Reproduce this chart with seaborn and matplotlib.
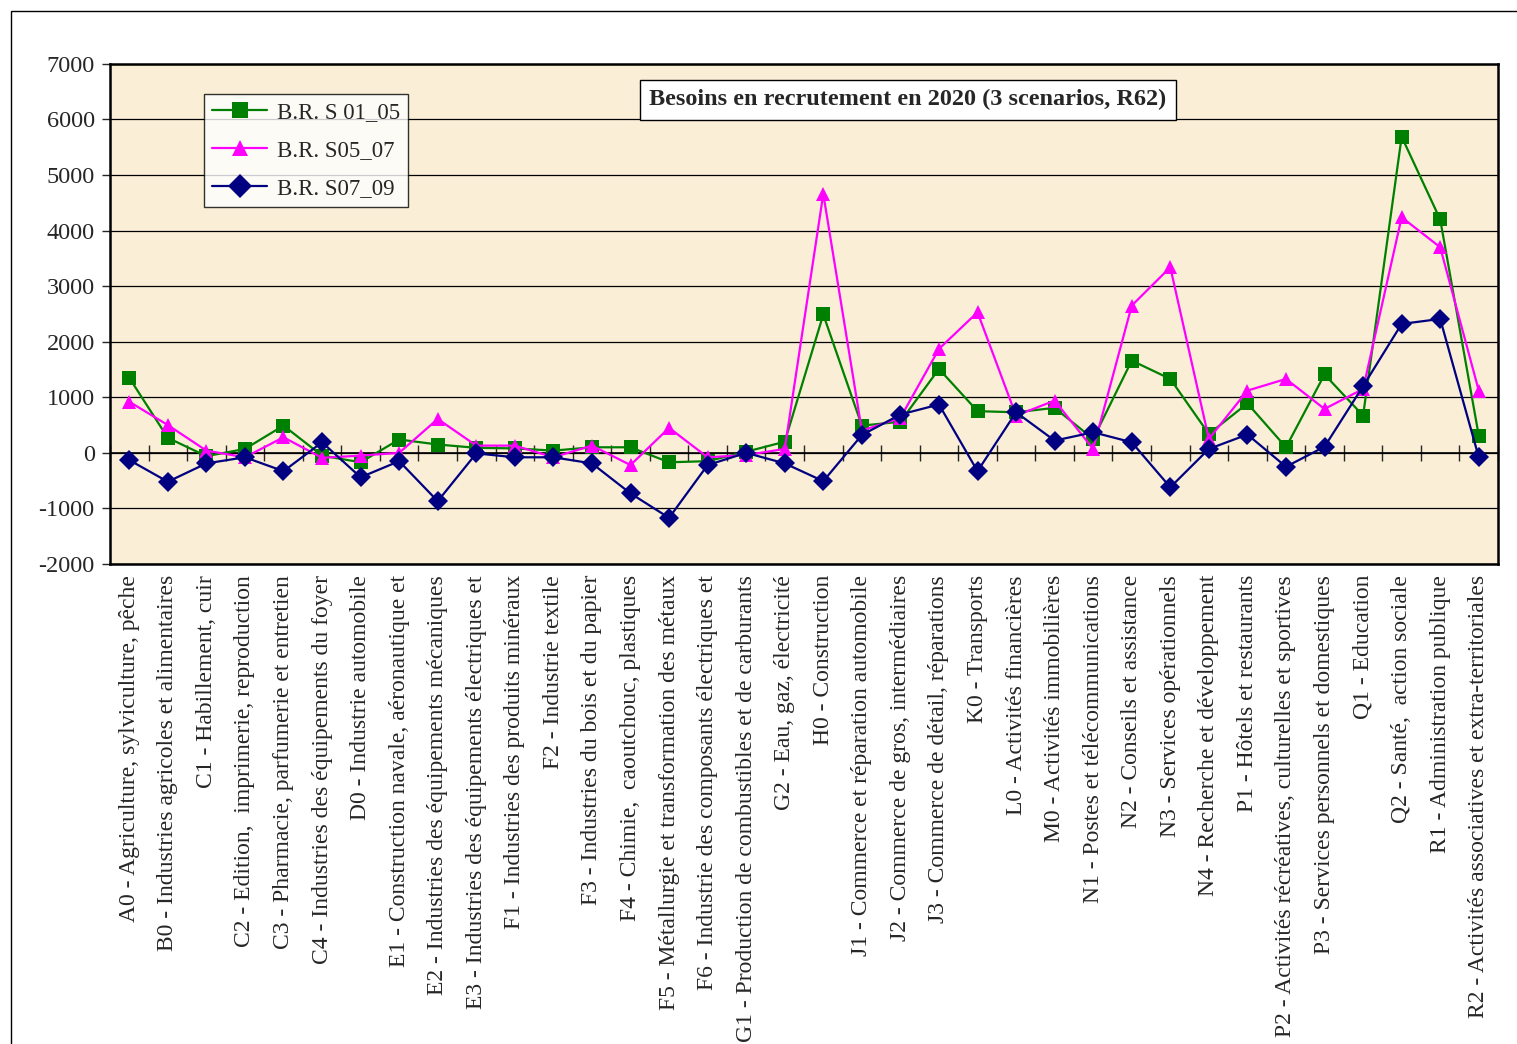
import pandas as pd
import numpy as np
import matplotlib.pyplot as plt
import seaborn as sns
from matplotlib.patches import Rectangle

sns.set_style('white')
plt.rcParams['font.family'] = ['Liberation Serif', 'DejaVu Serif']
plt.rcParams['axes.unicode_minus'] = False

# Données
secteurs = [
    "A0 - Agriculture, sylviculture, pêche",
    "B0 - Industries agricoles et alimentaires",
    "C1 - Habillement, cuir",
    "C2 - Edition,  imprimerie, reproduction",
    "C3 - Pharmacie, parfumerie et entretien",
    "C4 - Industries des équipements du foyer",
    "D0 - Industrie automobile",
    "E1 - Construction navale, aéronautique et",
    "E2 - Industries des équipements mécaniques",
    "E3 - Industries des équipements électriques et",
    "F1 - Industries des produits minéraux",
    "F2 - Industrie textile",
    "F3 - Industries du bois et du papier",
    "F4 - Chimie,  caoutchouc, plastiques",
    "F5 - Métallurgie et transformation des métaux",
    "F6 - Industrie des composants électriques et",
    "G1 - Production de combustibles et de carburants",
    "G2 - Eau, gaz, électricité",
    "H0 - Construction",
    "J1 - Commerce et réparation automobile",
    "J2 - Commerce de gros, intermédiaires",
    "J3 - Commerce de détail, réparations",
    "K0 - Transports",
    "L0 - Activités financières",
    "M0 - Activités immobilières",
    "N1 - Postes et télécommunications",
    "N2 - Conseils et assistance",
    "N3 - Services opérationnels",
    "N4 - Recherche et développement",
    "P1 - Hôtels et restaurants",
    "P2 - Activités récréatives, culturelles et sportives",
    "P3 - Services personnels et domestiques",
    "Q1 - Education",
    "Q2 - Santé,  action sociale",
    "R1 - Administration publique",
    "R2 - Activités associatives et extra-territoriales",
]

br_s01_05 = [1350, 270, -60, 70, 490, -50, -170, 240, 150, 90, 80, 40, 100, 100, -170, -150, 20, 200,
             2490, 490, 560, 1510, 750, 730, 810, 250, 1660, 1330, 340, 890, 100, 1410, 670, 5690, 4200, 310]
br_s05_07 = [920, 500, 40, -80, 280, -90, -50, 0, 610, 130, 130, -80, 130, -220, 450, -80, -40, 70,
             4660, 400, 630, 1870, 2530, 670, 940, 70, 2650, 3340, 250, 1120, 1330, 790, 1150, 4240, 3700, 1120]
br_s07_09 = [-130, -520, -190, -80, -330, 190, -440, -150, -870, -10, -80, -80, -190, -730, -1170, -220, 0, -190,
             -510, 320, 690, 870, -330, 730, 220, 370, 190, -620, 70, 330, -250, 110, 1200, 2320, 2410, -80]

noms = ["B.R. S 01_05", "B.R. S05_07", "B.R. S07_09"]
couleurs = {noms[0]: '#008000', noms[1]: '#FF00FF', noms[2]: '#000080'}
marqueurs = {noms[0]: 's', noms[1]: '^', noms[2]: 'D'}

pos = np.arange(len(secteurs))
df = pd.concat([
    pd.DataFrame({'pos': pos, 'valeur': v, 'serie': n})
    for n, v in zip(noms, [br_s01_05, br_s05_07, br_s07_09])
])

fig = plt.figure(figsize=(15.17, 10.44), dpi=100)
ax = fig.add_axes([0.0725, 0.4598, 0.915, 0.479])
ax.set_facecolor('#FAEED6')

sns.lineplot(data=df, x='pos', y='valeur', hue='serie', style='serie', hue_order=noms, style_order=noms,
             palette=couleurs, markers=marqueurs, dashes=False, markersize=10, linewidth=1.6,
             markeredgewidth=0, ax=ax)

ax.set_xlim(-0.5, len(secteurs) - 0.5)
ax.set_ylim(-2000, 7000)
ax.set_yticks(range(-2000, 7001, 1000))
ax.tick_params(axis='y', labelsize=17.5, direction='out', length=6, width=1, left=True, pad=5)
ax.yaxis.grid(True, color='black', linewidth=0.9)
ax.set_axisbelow(True)
ax.axhline(0, color='black', linewidth=1.2, zorder=1)

ax.set_xticks(pos)
ax.set_xticklabels(secteurs, rotation=90, fontsize=17)
ax.tick_params(axis='x', length=0, pad=8)
for s in ax.spines.values():
    s.set_linewidth(1.8)
    s.set_color('black')

# graduations sur l'axe zéro
sec = ax.secondary_xaxis(2000 / 9000)
sec.set_xticks(np.arange(-0.5, len(secteurs), 1.0))
sec.tick_params(direction='inout', length=12, width=1, labelbottom=False, labeltop=False)
sec.spines['bottom'].set_visible(False)
sec.spines['top'].set_visible(False)

ax.set_xlabel('')
ax.set_ylabel('')

leg = ax.legend(loc='upper left', bbox_to_anchor=(0.068, 0.94), fontsize=16.5, frameon=True,
                fancybox=False, edgecolor='black', handlelength=2.4, handletextpad=0.4,
                borderpad=0.35, labelspacing=0.75, borderaxespad=0, markerscale=1.2)
leg.get_frame().set_linewidth(1)

ax.text(0.575, 0.928, 'Besoins en recrutement en 2020 (3 scenarios, R62)', transform=ax.transAxes,
        ha='center', va='center', fontsize=17.5, fontweight='bold',
        bbox=dict(boxstyle='square,pad=0.4', facecolor='white', edgecolor='black', linewidth=1))

fig.patches.append(Rectangle((11 / 1517, -0.05), 1.2, 1.05 - 11 / 1044, transform=fig.transFigure,
                             fill=False, edgecolor='black', linewidth=1))

fig.savefig('out.png', dpi=100)
